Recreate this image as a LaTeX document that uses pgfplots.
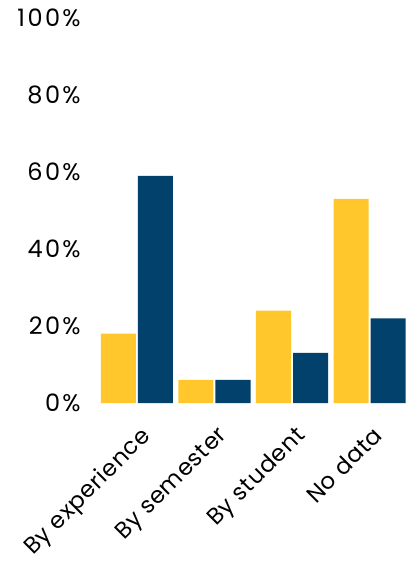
\documentclass[border=0pt]{standalone}
\usepackage{pgfplots}
\pgfplotsset{compat=1.18}
\usepackage{fontspec}
\setmainfont{Poppins}[LetterSpace=3]
\newfontfamily\yfont{Poppins}[LetterSpace=10]
\definecolor{cyellow}{HTML}{FFC72C}
\definecolor{cnavy}{HTML}{02416B}
\begin{document}
\begin{tikzpicture}
\useasboundingbox (-98.25pt,-159pt) rectangle (319.75pt,403pt);
\begin{axis}[
  at={(0,0)}, anchor=south west,
  scale only axis, width=310pt, height=385pt,
  xmin=-0.5, xmax=3.5, ymin=0, ymax=100,
  axis line style={draw=none},
  major tick length=0pt,
  ybar, bar width=35pt,
  xtick={0,1,2,3},
  xticklabels={By experience, By semester, By student, No data},
  xticklabel style={xshift=2pt, yshift=-17pt, rotate=45, anchor=north east, font=\fontsize{23}{27}\selectfont},
  ytick={0,20,40,60,80,100},
  yticklabels={0\%,20\%,40\%,60\%,80\%,100\%},
  yticklabel style={font=\yfont\fontsize{24}{28}\selectfont, xshift=-14pt},
  /pgf/number format/assume math mode=true,
]
\addplot[fill=cyellow, draw=none, bar shift=-18.5pt] coordinates {(0,18) (1,6) (2,24) (3,53)};
\addplot[fill=cnavy, draw=none, bar shift=18.5pt] coordinates {(0,59) (1,6) (2,13) (3,22)};
\end{axis}
\end{tikzpicture}
\end{document}
